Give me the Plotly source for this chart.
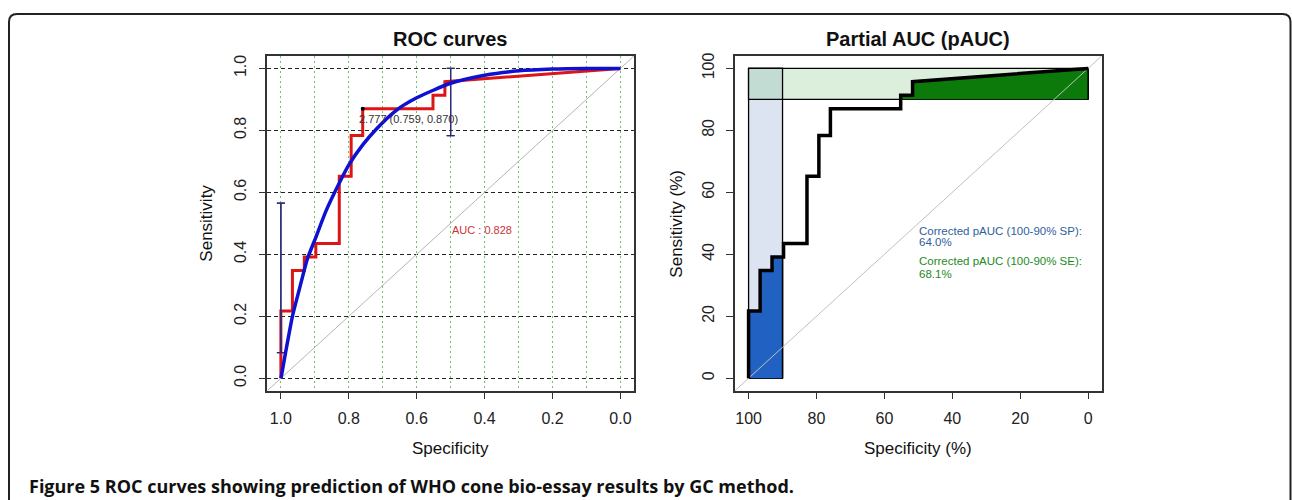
import plotly.graph_objects as go

# ---------------- data ----------------
# empirical ROC coordinates (specificity, sensitivity)
roc_spec = [1.0, 1.0, 0.966, 0.966, 0.931, 0.931, 0.897, 0.897, 0.828, 0.828,
            0.793, 0.793, 0.759, 0.759, 0.552, 0.552, 0.517, 0.517, 0.0]
roc_sens = [0.0, 0.217, 0.217, 0.348, 0.348, 0.391, 0.391, 0.435, 0.435, 0.652,
            0.652, 0.783, 0.783, 0.870, 0.870, 0.913, 0.913, 0.957, 1.0]

# smoothed ROC curve
smooth_spec = [1.0, 0.998, 0.99, 0.98, 0.966, 0.945, 0.922, 0.897, 0.867, 0.828,
               0.799, 0.759, 0.72, 0.661, 0.60, 0.50, 0.40, 0.30, 0.20, 0.10, 0.0]
smooth_sens = [0.0, 0.01, 0.06, 0.12, 0.20, 0.29, 0.385, 0.455, 0.54, 0.63,
               0.69, 0.753, 0.803, 0.864, 0.905, 0.952, 0.978, 0.992, 0.998, 1.0, 1.0]

# confidence intervals of sensitivity
ci_spec = [1.0, 0.5]
ci_low = [0.083, 0.783]
ci_high = [0.565, 1.0]

# best threshold
thr_value = 2.777
thr_spec = 0.759
thr_sens = 0.870
auc_value = 0.828

# partial AUC limits and results
sp_limit = 0.90
se_limit = 0.90
pauc_sp = 64.0
pauc_se = 68.1

x_ticks = [1.0, 0.8, 0.6, 0.4, 0.2, 0.0]
y_ticks = [0.0, 0.2, 0.4, 0.6, 0.8, 1.0]
x_ticks_pct = [100, 80, 60, 40, 20, 0]
y_ticks_pct = [0, 20, 40, 60, 80, 100]

# ---------------- layout helpers ----------------
W, H = 1292, 500
def px(x):
    return x / W
def py(y):
    return 1 - y / H

FONT = "Liberation Sans, Arial, sans-serif"
left_dom_x = [px(267.3), px(634)]
right_dom_x = [px(735), px(1101.7)]
dom_y = [py(390), py(53.3)]

fig = go.Figure()

# ---------------- left: ROC curves ----------------
fig.add_trace(go.Scatter(x=[1.04, -0.04], y=[-0.04, 1.04], mode="lines",
                         line=dict(color="#b5b5b5", width=1), xaxis="x", yaxis="y",
                         hoverinfo="skip", showlegend=False))
fig.add_trace(go.Scatter(x=roc_spec, y=roc_sens, mode="lines",
                         line=dict(color="#dd1515", width=3), xaxis="x", yaxis="y",
                         showlegend=False))
fig.add_trace(go.Scatter(x=ci_spec, y=ci_low, mode="markers",
                         marker=dict(size=1, color="rgba(0,0,0,0)"),
                         error_y=dict(type="data", symmetric=False,
                                      array=[h - l for h, l in zip(ci_high, ci_low)],
                                      arrayminus=[0, 0], color="#2a2a7a",
                                      thickness=1.3, width=4),
                         xaxis="x", yaxis="y", showlegend=False))
fig.add_trace(go.Scatter(x=ci_spec, y=ci_high, mode="markers",
                         marker=dict(size=1, color="rgba(0,0,0,0)"),
                         error_y=dict(type="data", symmetric=False,
                                      array=[0, 0],
                                      arrayminus=[h - l for h, l in zip(ci_high, ci_low)],
                                      color="#2a2a7a", thickness=1.3, width=4),
                         xaxis="x", yaxis="y", showlegend=False))
fig.add_trace(go.Scatter(x=smooth_spec, y=smooth_sens, mode="lines",
                         line=dict(color="#1010d0", width=3.5, shape="spline", smoothing=0.6),
                         xaxis="x", yaxis="y", showlegend=False))
fig.add_trace(go.Scatter(x=[thr_spec], y=[thr_sens], mode="markers",
                         marker=dict(size=4, color="black"),
                         xaxis="x", yaxis="y", showlegend=False))

# ---------------- right: partial AUC ----------------
spec_pct = [s * 100 for s in roc_spec]
sens_pct = [s * 100 for s in roc_sens]
sp_lim = sp_limit * 100
se_lim = se_limit * 100

# polygon for the SP-restricted pAUC: curve where spec >= limit
sp_x, sp_y = [], []
for s, t in zip(spec_pct, sens_pct):
    if s >= sp_lim:
        sp_x.append(s)
        sp_y.append(t)
sens_at_sp = sp_y[-1]
sp_x += [sp_lim, sp_lim]
sp_y += [sens_at_sp, 0]

# polygon for the SE-restricted pAUC: curve where sens >= limit
se_x, se_y = [], []
for s, t in zip(spec_pct, sens_pct):
    if t >= se_lim:
        if not se_x:
            se_x.append(s)
            se_y.append(se_lim)
        se_x.append(s)
        se_y.append(t)
se_x += [0, 0]
se_y += [100, se_lim]

fig.add_trace(go.Scatter(x=sp_x, y=sp_y, mode="lines", fill="toself",
                         fillcolor="#2161c2", line=dict(color="black", width=1.5),
                         xaxis="x2", yaxis="y2", showlegend=False))
fig.add_trace(go.Scatter(x=se_x, y=se_y, mode="lines", fill="toself",
                         fillcolor="#0b7a0b", line=dict(color="black", width=1.5),
                         xaxis="x2", yaxis="y2", showlegend=False))
fig.add_trace(go.Scatter(x=[104, -4], y=[-4, 104], mode="lines",
                         line=dict(color="#c0c0c0", width=1), xaxis="x2", yaxis="y2",
                         hoverinfo="skip", showlegend=False))
fig.add_trace(go.Scatter(x=spec_pct, y=sens_pct, mode="lines",
                         line=dict(color="black", width=3.5),
                         xaxis="x2", yaxis="y2", showlegend=False))

shapes = []
# max-pAUC rectangles
shapes.append(dict(type="rect", xref="x2", yref="y2", x0=100, x1=sp_lim, y0=0, y1=100,
                   fillcolor="#dce4f2", line=dict(color="black", width=1.3), layer="below"))
shapes.append(dict(type="rect", xref="x2", yref="y2", x0=100, x1=0, y0=se_lim, y1=100,
                   fillcolor="#dcefdc", line=dict(color="black", width=1.3), layer="below"))
shapes.append(dict(type="rect", xref="x2", yref="y2", x0=100, x1=sp_lim, y0=se_lim, y1=100,
                   fillcolor="#c3dcd3", line=dict(color="black", width=1.3), layer="below"))

# outer frame with rounded top corners
x0, x1, yt = px(9), px(1290.5), py(11)
rx, ry = 8 / W, 8 / H
shapes.append(dict(type="path", xref="paper", yref="paper",
                   path=(f"M {x0},0 L {x0},{yt - ry} Q {x0},{yt} {x0 + rx},{yt} "
                         f"L {x1 - rx},{yt} Q {x1},{yt} {x1},{yt - ry} L {x1},0"),
                   line=dict(color="#222222", width=2)))

annotations = []
def ann(text, x, y, size, color="#111", bold=False, angle=0, xanchor="center",
        xref="paper", yref="paper", font=FONT):
    annotations.append(dict(text=f"<b>{text}</b>" if bold else text, x=x, y=y,
                            xref=xref, yref=yref, showarrow=False, textangle=angle,
                            xanchor=xanchor, yanchor="middle", align="left",
                            font=dict(family=font, size=size, color=color)))

ann("ROC curves", px(450.6), py(36), 20, bold=True)
ann("Partial AUC (pAUC)", px(918), py(36), 20, bold=True)
ann("Specificity", px(450.6), py(448), 17)
ann("Specificity (%)", px(918), py(448), 17)
ann("Sensitivity", px(207), py(222), 17, angle=-90)
ann("Sensitivity (%)", px(677), py(222), 17, angle=-90)
ann(f"{thr_value:.3f} ({thr_spec:.3f}, {thr_sens:.3f})", thr_spec + 0.016, thr_sens - 0.033,
    11, color="#333", xanchor="left", xref="x", yref="y")
ann(f"AUC : {auc_value:.3f}", 0.503, 0.477, 11, color="#cc3333",
    xanchor="left", xref="x", yref="y")
ann(f"Corrected pAUC (100-{sp_lim:.0f}% SP):", 50.4, 47.6, 11.5,
    color="#2e5e9e", xanchor="left", xref="x2", yref="y2")
ann(f"{pauc_sp:.1f}%", 50.4, 43.9, 11.5,
    color="#2e5e9e", xanchor="left", xref="x2", yref="y2")
ann(f"Corrected pAUC (100-{se_lim:.0f}% SE):", 50.4, 38.0, 11.5,
    color="#1e8a1e", xanchor="left", xref="x2", yref="y2")
ann(f"{pauc_se:.1f}%", 50.4, 33.5, 11.5,
    color="#1e8a1e", xanchor="left", xref="x2", yref="y2")
ann("<b>Figure 5 ROC curves showing prediction of WHO cone bio-essay results by GC method.</b>",
    px(27), py(486), 18, color="#111", xanchor="left", font="Open Sans, sans-serif")

axis_common = dict(showline=True, mirror=True, linecolor="#333", linewidth=1.5,
                   ticks="outside", ticklen=7, tickcolor="#333", tickwidth=1.2,
                   zeroline=False, tickfont=dict(family=FONT, size=16, color="#222"))

fig.update_layout(
    width=W, height=H, margin=dict(l=0, r=0, t=0, b=0),
    paper_bgcolor="white", plot_bgcolor="white", showlegend=False,
    xaxis=dict(domain=left_dom_x, range=[1.04, -0.04], anchor="y",
               tickvals=x_ticks, ticktext=[f"{v:.1f}" for v in x_ticks],
               ticklabelstandoff=5,
               showgrid=True, gridcolor="#6cc26c", gridwidth=1, griddash="2px,3px",
               minor=dict(dtick=0.1, tick0=0, showgrid=True, gridcolor="#6cc26c",
                          gridwidth=1, griddash="2px,3px", ticks=""),
               **axis_common),
    yaxis=dict(domain=dom_y, range=[-0.04, 1.04], anchor="x",
               tickvals=y_ticks, ticktext=[f"{v:.1f}" for v in y_ticks], tickangle=-90,
               ticklabelstandoff=6,
               showgrid=True, gridcolor="#222", gridwidth=1.4, griddash="4px,3px",
               **axis_common),
    xaxis2=dict(domain=right_dom_x, range=[104, -4], anchor="y2",
                tickvals=x_ticks_pct, ticktext=[str(v) for v in x_ticks_pct],
                ticklabelstandoff=5,
                showgrid=False, **axis_common),
    yaxis2=dict(domain=dom_y, range=[-4, 104], anchor="x2",
                tickvals=y_ticks_pct, ticktext=[str(v) for v in y_ticks_pct], tickangle=-90,
                ticklabelstandoff=6,
                showgrid=False, **axis_common),
    shapes=shapes, annotations=annotations,
)

fig.write_html("out.html", config={"displayModeBar": False},
               post_script="document.body.style.margin='0';document.body.style.overflow='hidden';")
